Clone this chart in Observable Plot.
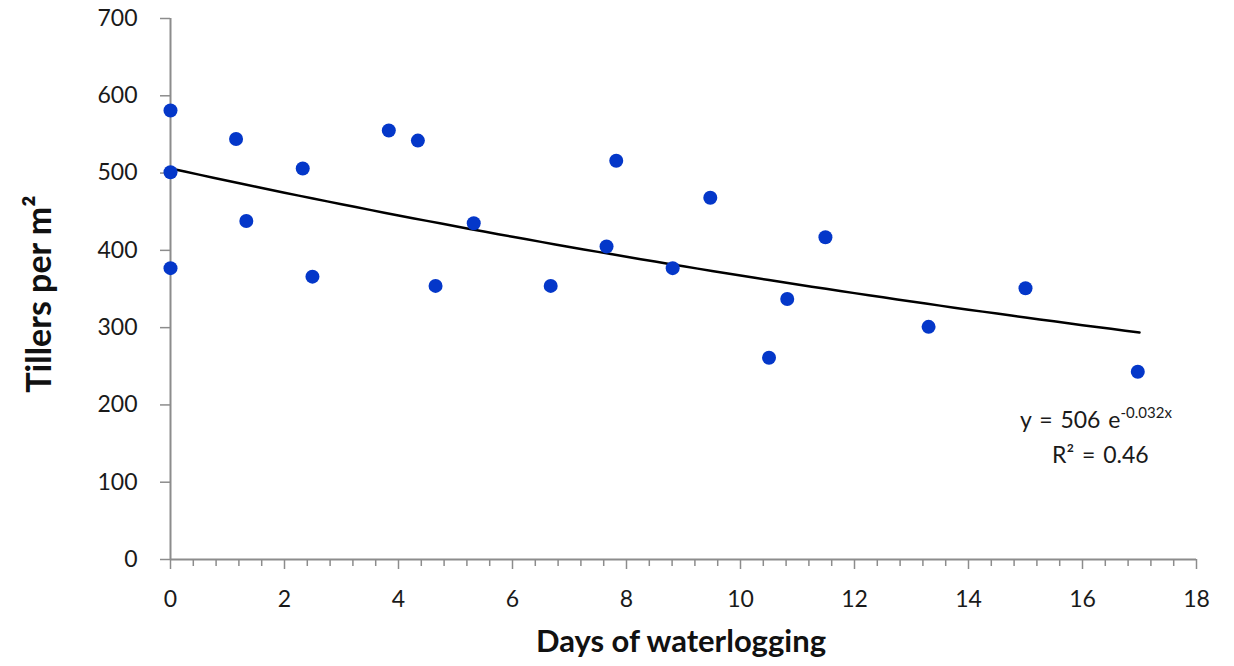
<!DOCTYPE html>
<html>
<head>
<meta charset="utf-8">
<script src="https://cdn.jsdelivr.net/npm/d3@7"></script>
<script src="https://cdn.jsdelivr.net/npm/@observablehq/plot@0.6"></script>
<style>
  html, body { margin: 0; padding: 0; background: #fff; }
  #chart svg { display: block; }
</style>
</head>
<body>
<div id="chart"></div>
<script>
// Data
const days = [0, 0, 0, 1.15, 1.33, 2.32, 2.49, 3.83, 4.34, 4.65, 5.32, 6.67, 7.65, 7.82, 8.81, 9.47, 10.5, 10.82, 11.49, 13.3, 15.0, 16.97];
const tillers = [581, 501, 377, 544, 438, 506, 366, 555, 542, 354, 435, 354, 405, 516, 377, 468, 261, 337, 417, 301, 351, 243];

// Fitted trend shown on the chart: y = 506 e^(-0.032x), x from 0 to 17
const trendA = 506;
const trendB = -0.032;
const trendXMax = 17;

const xMajorTicks = [0, 2, 4, 6, 8, 10, 12, 14, 16, 18];
const xMinorTicks = d3.range(0, 18.001, 0.4).map(v => +v.toFixed(1)).filter(v => Math.abs(v / 2 - Math.round(v / 2)) > 1e-6);
const yTicks = [0, 100, 200, 300, 400, 500, 600, 700];

const xTitle = "Days of waterlogging";
const yTitle = "Tillers per m²";
const eqMain = "y = 506 e";
const eqExp = "-0.032x";
const r2Text = "R² = 0.46";

const points = days.map((d, i) => ({x: d, y: tillers[i]}));
const trend = d3.range(0, trendXMax + 0.0001, 0.25).map(x => ({x, y: trendA * Math.exp(trendB * x)}));

const font = "Lato, 'Open Sans', sans-serif";
const axisGray = "#8c8c8c";

const chart = Plot.plot({
  width: 1234,
  height: 666,
  marginLeft: 170,
  marginRight: 38,
  marginTop: 18,
  marginBottom: 107,
  style: {fontFamily: font, background: "#fff"},
  x: {domain: [0, 18]},
  y: {domain: [0, 700]},
  marks: [
    Plot.axisX({ticks: xMinorTicks, tickSize: 7, text: null, label: null, stroke: axisGray, strokeWidth: 1.5}),
    Plot.axisX({ticks: xMajorTicks, tickSize: 10, tickPadding: 21, stroke: axisGray, strokeWidth: 1.5, fill: "#1a1a1a", fontSize: 23, label: null}),
    Plot.axisY({ticks: yTicks, tickSize: 10, tickPadding: 23, stroke: axisGray, strokeWidth: 1.5, fill: "#1a1a1a", fontSize: 23, label: null}),
    Plot.ruleX([0], {stroke: axisGray, strokeWidth: 2}),
    Plot.ruleY([0], {stroke: axisGray, strokeWidth: 2}),
    Plot.line(trend, {x: "x", y: "y", stroke: "#000", strokeWidth: 2.5}),
    Plot.dot(points, {x: "x", y: "y", r: 7, fill: "#0437c9", stroke: "none"})
  ]
});

document.getElementById("chart").appendChild(chart);

const svg = d3.select(chart);

// Axis titles
svg.append("text")
  .attr("x", 681)
  .attr("y", 652)
  .attr("text-anchor", "middle")
  .attr("font-family", font)
  .attr("font-weight", "bold")
  .attr("font-size", 31)
  .attr("fill", "#111")
  .text(xTitle);

svg.append("text")
  .attr("transform", `translate(51, 294) rotate(-90)`)
  .attr("text-anchor", "middle")
  .attr("font-family", font)
  .attr("font-weight", "bold")
  .attr("font-size", 34)
  .attr("fill", "#111")
  .text(yTitle);

// Trend equation
const eq = svg.append("text")
  .attr("x", 1020)
  .attr("y", 428)
  .attr("text-anchor", "start")
  .attr("font-family", font)
  .attr("font-size", 23)
  .attr("word-spacing", 2)
  .attr("fill", "#1a1a1a");
eq.append("tspan").text(eqMain);
eq.append("tspan").attr("dy", -10).attr("font-size", 15).attr("word-spacing", 0).text(eqExp);

svg.append("text")
  .attr("x", 1052)
  .attr("y", 463)
  .attr("text-anchor", "start")
  .attr("font-family", font)
  .attr("font-size", 23)
  .attr("word-spacing", 2)
  .attr("fill", "#1a1a1a")
  .text(r2Text);
</script>
</body>
</html>
